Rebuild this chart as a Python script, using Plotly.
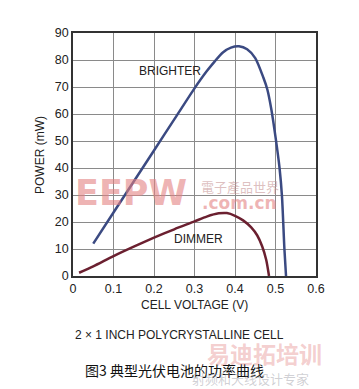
import plotly.graph_objects as go

bright_v = [0.05, 0.10, 0.15, 0.20, 0.25, 0.30, 0.33, 0.35, 0.37, 0.39, 0.41, 0.43, 0.45, 0.47, 0.48, 0.49, 0.50, 0.51, 0.516, 0.522, 0.526]
bright_p = [12, 23.5, 35, 46.5, 58, 69.5, 75.8, 79.5, 82.8, 84.6, 85.1, 84, 80.7, 73.5, 69, 61.5, 51.5, 40, 29.5, 10, 0]
dim_v = [0.015, 0.05, 0.10, 0.15, 0.20, 0.25, 0.30, 0.33, 0.36, 0.38, 0.40, 0.42, 0.44, 0.455, 0.467, 0.477, 0.484]
dim_p = [1.2, 3.6, 7.4, 10.9, 14.2, 17.3, 20.2, 22.0, 23.2, 23.3, 22.3, 20.6, 18.0, 15.0, 11.0, 6.0, 0]
x_ticks = [0, 0.1, 0.2, 0.3, 0.4, 0.5, 0.6]
x_tick_text = ["0", "0.1", "0.2", "0.3", "0.4", "0.5", "0.6"]
y_ticks = [0, 10, 20, 30, 40, 50, 60, 70, 80, 90]

FONT = "Liberation Sans, Arial"
TXT = "#222"

fig = go.Figure()
fig.add_trace(go.Scatter(x=bright_v, y=bright_p, mode="lines",
                         line=dict(color="#3b4a82", width=2.5, shape="spline", smoothing=0.7), showlegend=False))
fig.add_trace(go.Scatter(x=dim_v, y=dim_p, mode="lines",
                         line=dict(color="#6b2030", width=2.5, shape="spline", smoothing=0.7), showlegend=False))

ann = [
    dict(x=0.2386, y=76, xref="x", yref="y", text="BRIGHTER", showarrow=False, font=dict(family=FONT, size=12, color=TXT)),
    dict(x=0.311, y=13.7, xref="x", yref="y", text="DIMMER", showarrow=False, font=dict(family=FONT, size=12, color=TXT)),
    # watermark on plot
    dict(x=0.143, y=30.7, xref="x", yref="y", text="<b>EEPW</b>", showarrow=False,
         font=dict(family="DejaVu Sans", size=35, color="rgba(228,130,130,0.6)")),
    dict(x=0.412, y=33.2, xref="x", yref="y", text="電子產品世界", showarrow=False,
         font=dict(family="Noto Sans CJK TC", size=13, color="rgba(200,150,150,0.6)")),
    dict(x=0.412, y=27, xref="x", yref="y", text="<b>.com.cn</b>", showarrow=False,
         font=dict(family="DejaVu Sans", size=17, color="rgba(228,130,130,0.6)")),
    # texts below the plot
    dict(x=0.5, y=-0.12, xref="paper", yref="paper", text="CELL VOLTAGE (V)", showarrow=False,
         font=dict(family=FONT, size=12, color=TXT), yanchor="middle"),
    dict(x=0, y=-0.243, xref="paper", yref="paper", text="2 × 1 INCH POLYCRYSTALLINE CELL", showarrow=False,
         xanchor="left", font=dict(family=FONT, size=12, color=TXT), yanchor="middle"),
    dict(x=0.543, y=-0.315, xref="paper", yref="paper", text="<b>易迪拓培训</b>", showarrow=False, xanchor="left",
         font=dict(family="Noto Sans CJK SC", size=23, color="rgba(228,130,130,0.4)"), yanchor="middle"),
    dict(x=0.041, y=-0.385, xref="paper", yref="paper", text="图3 典型光伏电池的功率曲线", showarrow=False,
         xanchor="left", font=dict(family="Noto Sans CJK SC", size=14, color="#111"), yanchor="middle"),
    dict(x=0.48, y=-0.42, xref="paper", yref="paper", text="射频和天线设计专家", showarrow=False, xanchor="left",
         font=dict(family="Noto Sans CJK SC", size=13, color="rgba(150,150,160,0.45)"), yanchor="middle"),
    dict(x=-0.175, y=0.5, xref="paper", yref="paper", text="POWER (mW)", showarrow=False, textangle=-90,
         font=dict(family=FONT, size=12, color=TXT)),
]

fig.update_layout(
    width=359, height=389,
    margin=dict(l=73, r=43, t=33, b=113),
    paper_bgcolor="white", plot_bgcolor="white",
    annotations=ann,
    xaxis=dict(range=[0, 0.6], tickvals=x_ticks, ticktext=x_tick_text, showgrid=True, gridcolor="#8a8a8a", gridwidth=1,
               showline=True, linecolor="#333", linewidth=1.5, mirror=True, ticks="", zeroline=False,
               tickfont=dict(family=FONT, size=12.5, color=TXT)),
    yaxis=dict(range=[0, 90], tickvals=y_ticks, showgrid=True, gridcolor="#8a8a8a", gridwidth=1,
               showline=True, linecolor="#333", linewidth=1.5, mirror=True, ticks="", zeroline=False,
               tickfont=dict(family=FONT, size=12.5, color=TXT)),
)
fig.write_html("out.html")
